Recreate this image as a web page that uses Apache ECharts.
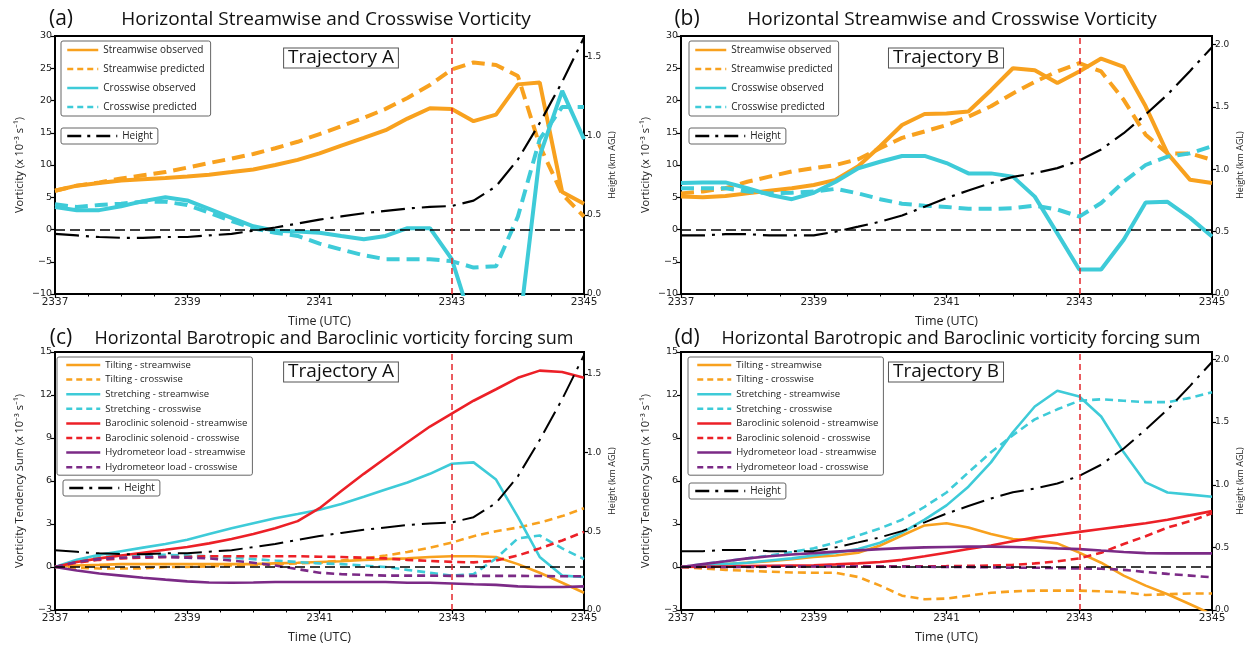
<!DOCTYPE html>
<html>
<head>
<meta charset="utf-8">
<script src="https://cdn.jsdelivr.net/npm/echarts@6.0.0/dist/echarts.min.js"></script>
<style>
	html, body { margin: 0; padding: 0; background: #ffffff; }
	#chart { width: 1252px; height: 645px; }
</style>
</head>
<body>
<div id="chart"></div>
<script>
// time axis (UTC, 20 s output interval)
var time = [2337, 2337.33, 2337.67, 2338, 2338.33, 2338.67, 2339, 2339.33, 2339.67, 2340, 2340.33, 2340.67,
	2341, 2341.33, 2341.67, 2342, 2342.33, 2342.67, 2343, 2343.33, 2343.67, 2344, 2344.33, 2344.67, 2345];
var timeTicks = [2337, 2339, 2341, 2343, 2345];

// (a) trajectory A vorticity
var streamObsA = [6.0, 6.8, 7.2, 7.6, 7.8, 8.0, 8.2, 8.5, 8.9, 9.3, 10.0, 10.8, 11.8, 13.0, 14.2, 15.4, 17.2, 18.8, 18.7, 16.8, 17.8, 22.5, 22.8, 5.8, 4.0];
var streamPredA = [6.0, 6.8, 7.3, 7.9, 8.4, 8.9, 9.6, 10.3, 11.0, 11.7, 12.6, 13.6, 14.8, 16.0, 17.3, 18.7, 20.4, 22.4, 24.8, 25.9, 25.5, 23.8, 13.0, 5.5, 2.0];
var crossObsA = [3.5, 3.0, 3.0, 3.6, 4.4, 5.0, 4.5, 3.2, 1.8, 0.5, -0.2, -0.3, -0.5, -1.0, -1.5, -1.0, 0.2, 0.2, -4.6, -15.3, -17.0, -17.1, 11.4, 21.5, 14.0];
var crossPredA = [3.9, 3.5, 3.8, 4.0, 4.3, 4.3, 3.8, 2.6, 1.3, 0.2, -0.5, -1.0, -2.2, -3.1, -4.0, -4.6, -4.6, -4.6, -4.9, -5.9, -5.7, 2.0, 14.0, 19.0, 19.0];
var heightA = [0.38, 0.37, 0.36, 0.355, 0.355, 0.36, 0.36, 0.37, 0.38, 0.40, 0.42, 0.445, 0.47, 0.49, 0.51, 0.525, 0.54, 0.55, 0.556, 0.59, 0.68, 0.85, 1.08, 1.34, 1.62];

// (b) trajectory B vorticity
var streamObsB = [5.1, 5.0, 5.2, 5.6, 6.0, 6.4, 6.9, 7.7, 9.8, 12.9, 16.2, 17.9, 18.0, 18.3, 21.6, 25.0, 24.7, 22.7, 24.5, 26.5, 25.2, 19.1, 11.8, 7.7, 7.2];
var streamPredB = [5.6, 5.9, 6.4, 7.4, 8.2, 9.0, 9.5, 10.0, 10.9, 12.6, 14.2, 15.2, 16.2, 17.5, 19.1, 21.1, 22.9, 24.5, 25.8, 24.5, 20.1, 14.7, 11.8, 11.8, 10.8];
var crossObsB = [7.2, 7.3, 7.3, 6.4, 5.4, 4.7, 5.7, 7.4, 9.5, 10.5, 11.4, 11.4, 10.3, 8.7, 8.7, 8.2, 5.1, -0.6, -6.2, -6.2, -1.6, 4.2, 4.3, 1.8, -1.1];
var crossPredB = [6.4, 6.4, 6.4, 5.9, 5.6, 5.7, 5.9, 6.3, 5.6, 4.7, 4.0, 3.7, 3.5, 3.2, 3.2, 3.3, 3.7, 3.1, 2.0, 4.1, 7.4, 10.0, 11.3, 11.8, 12.9];
var heightB = [0.47, 0.47, 0.48, 0.48, 0.47, 0.47, 0.47, 0.50, 0.54, 0.58, 0.63, 0.70, 0.77, 0.83, 0.89, 0.94, 0.97, 1.01, 1.07, 1.16, 1.29, 1.44, 1.60, 1.79, 1.98];

// (c) trajectory A forcing sums
var tiltStrC = [0, 0.1, 0.15, 0.2, 0.2, 0.2, 0.2, 0.2, 0.2, 0.2, 0.25, 0.3, 0.35, 0.4, 0.5, 0.55, 0.6, 0.7, 0.75, 0.75, 0.7, 0.2, -0.4, -1.1, -1.8];
var tiltCrsC = [0, -0.05, -0.1, -0.1, -0.1, 0, 0, 0.05, 0.1, 0.15, 0.2, 0.25, 0.3, 0.45, 0.6, 0.8, 1.05, 1.35, 1.7, 2.15, 2.5, 2.75, 3.1, 3.55, 4.1];
var stretchStrC = [0, 0.5, 0.85, 1.1, 1.35, 1.6, 1.9, 2.3, 2.7, 3.05, 3.4, 3.7, 4.0, 4.4, 4.9, 5.4, 5.9, 6.5, 7.2, 7.3, 6.1, 3.5, 0.7, -0.6, -0.7];
var stretchCrsC = [0, 0.4, 0.7, 0.8, 0.85, 0.85, 0.8, 0.75, 0.65, 0.55, 0.45, 0.35, 0.25, 0.2, 0.1, 0.0, -0.2, -0.4, -0.6, -0.5, 0.6, 2.0, 2.2, 1.3, 0.55];
var baroStrC = [0, 0.35, 0.6, 0.8, 1.0, 1.2, 1.4, 1.65, 1.95, 2.3, 2.7, 3.2, 4.1, 5.3, 6.5, 7.6, 8.7, 9.8, 10.7, 11.6, 12.4, 13.2, 13.7, 13.6, 13.2];
var baroCrsC = [0, 0.3, 0.5, 0.6, 0.65, 0.7, 0.7, 0.75, 0.75, 0.75, 0.75, 0.75, 0.72, 0.7, 0.65, 0.6, 0.5, 0.42, 0.36, 0.32, 0.45, 0.8, 1.3, 1.85, 2.45];
var hydroStrC = [0, -0.25, -0.45, -0.6, -0.75, -0.88, -1.0, -1.08, -1.1, -1.08, -1.05, -1.05, -1.05, -1.05, -1.05, -1.05, -1.1, -1.1, -1.15, -1.2, -1.25, -1.35, -1.4, -1.4, -1.35];
var hydroCrsC = [0, 0.35, 0.55, 0.65, 0.7, 0.7, 0.65, 0.6, 0.45, 0.3, 0.1, -0.15, -0.4, -0.5, -0.55, -0.6, -0.6, -0.6, -0.62, -0.62, -0.62, -0.62, -0.63, -0.65, -0.65];

// (d) trajectory B forcing sums
var tiltStrD = [0, 0.1, 0.2, 0.3, 0.4, 0.55, 0.7, 0.8, 1.0, 1.5, 2.2, 2.9, 3.05, 2.75, 2.3, 1.95, 1.85, 1.65, 1.0, 0.3, -0.6, -1.3, -1.9, -2.6, -3.3];
var tiltCrsD = [0, -0.1, -0.2, -0.27, -0.33, -0.38, -0.4, -0.4, -0.7, -1.3, -2.0, -2.25, -2.2, -2.0, -1.8, -1.7, -1.65, -1.65, -1.65, -1.7, -1.75, -1.95, -1.9, -1.85, -1.85];
var stretchStrD = [0, 0.1, 0.2, 0.3, 0.45, 0.6, 0.8, 1.0, 1.25, 1.7, 2.4, 3.3, 4.3, 5.6, 7.3, 9.4, 11.2, 12.3, 11.9, 10.5, 8.0, 5.9, 5.2, 5.05, 4.9];
var stretchCrsD = [0, 0.2, 0.4, 0.6, 0.8, 1.05, 1.3, 1.7, 2.2, 2.7, 3.3, 4.2, 5.2, 6.6, 8.0, 9.2, 10.3, 11.0, 11.6, 11.7, 11.6, 11.5, 11.5, 11.8, 12.2];
var baroStrD = [0, 0.02, 0.04, 0.06, 0.08, 0.1, 0.12, 0.18, 0.25, 0.35, 0.5, 0.75, 1.0, 1.25, 1.5, 1.8, 2.05, 2.25, 2.45, 2.65, 2.85, 3.05, 3.3, 3.6, 3.9];
var baroCrsD = [0, 0, 0, 0.02, 0.03, 0.04, 0.05, 0.05, 0.05, 0.05, 0.05, 0.05, 0.06, 0.08, 0.1, 0.15, 0.25, 0.4, 0.6, 1.0, 1.6, 2.15, 2.75, 3.2, 3.75];
var hydroStrD = [0, 0.2, 0.4, 0.6, 0.75, 0.87, 0.97, 1.07, 1.16, 1.25, 1.32, 1.37, 1.4, 1.42, 1.42, 1.4, 1.36, 1.3, 1.25, 1.15, 1.05, 0.97, 0.95, 0.95, 0.95];
var hydroCrsD = [0, 0, 0, 0, 0.02, 0.03, 0.04, 0.05, 0.05, 0.04, 0.03, 0.02, 0.0, 0.0, -0.02, -0.05, -0.05, -0.08, -0.1, -0.12, -0.2, -0.35, -0.48, -0.6, -0.72];

var orange = '#f8a11e';
var cyan = '#3ecbd8';
var red = '#ec2027';
var purple = '#7b2a86';
var text_color = '#222222';
var title_font = '"Open Sans", sans-serif';
var tick_font = '"DejaVu Sans", sans-serif';

function pairs(values) {
	return time.map(function (t, i) { return [t, values[i]]; });
}

function line(name, values, color, dash, width, xi, yi) {
	return {
		name: name,
		type: 'line',
		xAxisIndex: xi,
		yAxisIndex: yi,
		data: pairs(values),
		symbol: 'none',
		silent: true,
		lineStyle: { color: color, width: width, type: dash ? dash : 'solid' },
		itemStyle: { color: color }
	};
}

function refLines() {
	return {
		silent: true,
		symbol: 'none',
		label: { show: false },
		data: [
			{ yAxis: 0, lineStyle: { color: '#000', type: [10, 5], width: 1.5 } },
			{ xAxis: 2343, lineStyle: { color: '#e3262b', type: [6, 4], width: 1.5 } }
		]
	};
}

function timeAxis(gi) {
	return {
		type: 'value', gridIndex: gi, min: 2337, max: 2345, interval: 2,
		name: 'Time (UTC)', nameLocation: 'middle', nameGap: 21,
		nameTextStyle: { fontFamily: title_font, fontSize: 12.5, color: text_color },
		axisLine: { onZero: false, lineStyle: { color: '#000', width: 2 } },
		axisTick: { length: 4, lineStyle: { color: '#000', width: 1.2 } },
		minorTick: { show: true, splitNumber: 4, length: 2.5, lineStyle: { color: '#000', width: 1 } },
		axisLabel: { fontFamily: tick_font, fontSize: 10.5, color: text_color, margin: 3,
			formatter: function (v) { return timeTicks.indexOf(v) >= 0 ? String(v) : ''; } },
		splitLine: { show: false },
		minorSplitLine: { show: false }
	};
}

function leftAxis(gi, min, max, interval, name) {
	return {
		type: 'value', gridIndex: gi, position: 'left', min: min, max: max, interval: interval,
		name: name, nameLocation: 'middle', nameGap: 30,
		nameTextStyle: { fontFamily: title_font, fontSize: 11, color: text_color },
		axisLine: { show: true, onZero: false, lineStyle: { color: '#000', width: 2 } },
		axisTick: { show: true, length: 4, lineStyle: { color: '#000', width: 1.2 } },
		axisLabel: { fontFamily: tick_font, fontSize: 9.5, color: text_color, margin: 3,
			formatter: function (v) { return v < 0 ? '\u2212' + Math.abs(v) : String(v); } },
		splitLine: { show: false }
	};
}

function rightAxis(gi, max) {
	return {
		type: 'value', gridIndex: gi, position: 'right', min: 0, max: max, interval: 0.5,
		name: 'Height (km AGL)', nameLocation: 'middle', nameGap: 24,
		nameTextStyle: { fontFamily: title_font, fontSize: 9, color: text_color },
		axisLine: { show: true, onZero: false, lineStyle: { color: '#000', width: 2 } },
		axisTick: { show: true, length: 4, lineStyle: { color: '#000', width: 1.2 } },
		axisLabel: { fontFamily: tick_font, fontSize: 9, color: text_color, margin: 3, showMaxLabel: false,
			formatter: function (v) { return v.toFixed(1); } },
		splitLine: { show: false }
	};
}

var heightDash = [24, 7, 3, 7];
var topDash = [13, 7];
var lowDash = [8, 5];

function topLegend(left, names) {
	return {
		orient: 'vertical', left: left, top: 41,
		backgroundColor: '#fff', borderColor: '#666', borderWidth: 1, borderRadius: 2,
		padding: [4, 6, 4, 5], itemWidth: 31, itemHeight: 10, itemGap: 9,
		selectedMode: false,
		itemStyle: { opacity: 0 },
		lineStyle: { width: 2.5 },
		textStyle: { fontFamily: title_font, fontSize: 10, color: text_color },
		data: [
			{ name: names[0] },
			{ name: names[1], lineStyle: { width: 2.5, type: [6, 4] } },
			{ name: names[2] },
			{ name: names[3], lineStyle: { width: 2.5, type: [6, 4] } }
		]
	};
}

function lowLegend(left) {
	var names = ['Tilting - streamwise', 'Tilting - crosswise', 'Stretching - streamwise', 'Stretching - crosswise',
		'Baroclinic solenoid - streamwise', 'Baroclinic solenoid - crosswise', 'Hydrometeor load - streamwise', 'Hydrometeor load - crosswise'];
	return {
		orient: 'vertical', left: left, top: 357,
		backgroundColor: '#fff', borderColor: '#666', borderWidth: 1, borderRadius: 2,
		padding: [3, 5, 3, 8], itemWidth: 34, itemHeight: 10, itemGap: 4.6,
		selectedMode: false,
		itemStyle: { opacity: 0 },
		lineStyle: { width: 2.5 },
		textStyle: { fontFamily: title_font, fontSize: 9.5, color: text_color },
		data: names.map(function (n, i) {
			return i % 2 ? { name: n, lineStyle: { width: 2.5, type: [6, 4] } } : { name: n };
		})
	};
}

function heightLegend(left, top) {
	return {
		orient: 'vertical', left: left, top: top,
		backgroundColor: '#fff', borderColor: '#666', borderWidth: 1, borderRadius: 2,
		padding: [3, 5, 3, 5], itemWidth: 50, itemHeight: 10,
		selectedMode: false,
		itemStyle: { opacity: 0 },
		lineStyle: { width: 2.5 },
		textStyle: { fontFamily: title_font, fontSize: 10, color: text_color },
		data: [{ name: 'Height', lineStyle: { width: 2.5, type: [14, 6, 3, 6] } }]
	};
}

function label(x, y, txt, size, boxed) {
	var style = { text: txt, x: 0, y: 0, font: size + 'px ' + title_font, fill: '#111',
		textAlign: 'center', textVerticalAlign: 'middle', align: 'center', verticalAlign: 'middle' };
	if (boxed) {
		style.backgroundColor = '#fff';
		style.borderColor = '#555';
		style.borderWidth = 1;
		style.padding = [0, 4, 0, 4];
	}
	return { type: 'text', x: x, y: y, z: 100, silent: true, style: style };
}

var series = [];
// (a)
var sa = line('Streamwise observed', streamObsA, orange, null, 4, 0, 0);
sa.markLine = refLines();
series.push(sa);
series.push(line('Streamwise predicted', streamPredA, orange, topDash, 4, 0, 0));
series.push(line('Crosswise observed', crossObsA, cyan, null, 4, 0, 0));
series.push(line('Crosswise predicted', crossPredA, cyan, topDash, 4, 0, 0));
series.push(line('Height', heightA, '#000', heightDash, 2.2, 0, 1));
// (b)
var sb = line('Streamwise observed', streamObsB, orange, null, 4, 1, 2);
sb.markLine = refLines();
series.push(sb);
series.push(line('Streamwise predicted', streamPredB, orange, topDash, 4, 1, 2));
series.push(line('Crosswise observed', crossObsB, cyan, null, 4, 1, 2));
series.push(line('Crosswise predicted', crossPredB, cyan, topDash, 4, 1, 2));
series.push(line('Height', heightB, '#000', heightDash, 2.2, 1, 3));
// (c) and (d)
[[tiltStrC, tiltCrsC, stretchStrC, stretchCrsC, baroStrC, baroCrsC, hydroStrC, hydroCrsC, heightA],
 [tiltStrD, tiltCrsD, stretchStrD, stretchCrsD, baroStrD, baroCrsD, hydroStrD, hydroCrsD, heightB]].forEach(function (d, k) {
	var xi = 2 + k, yl = 4 + 2 * k, yr = 5 + 2 * k;
	var s0 = line('Tilting - streamwise', d[0], orange, null, 2.6, xi, yl);
	s0.markLine = refLines();
	series.push(s0);
	series.push(line('Tilting - crosswise', d[1], orange, lowDash, 2.6, xi, yl));
	series.push(line('Stretching - streamwise', d[2], cyan, null, 2.6, xi, yl));
	series.push(line('Stretching - crosswise', d[3], cyan, lowDash, 2.6, xi, yl));
	series.push(line('Baroclinic solenoid - streamwise', d[4], red, null, 2.6, xi, yl));
	series.push(line('Baroclinic solenoid - crosswise', d[5], red, lowDash, 2.6, xi, yl));
	series.push(line('Hydrometeor load - streamwise', d[6], purple, null, 2.6, xi, yl));
	series.push(line('Hydrometeor load - crosswise', d[7], purple, lowDash, 2.6, xi, yl));
	series.push(line('Height', d[8], '#000', heightDash, 2, xi, yr));
});

var topNames = ['Streamwise observed', 'Streamwise predicted', 'Crosswise observed', 'Crosswise predicted'];
var vortName = 'Vorticity (x 10\u207B\u00B3 s\u207B\u00B9)';
var tendName = 'Vorticity Tendency Sum (x 10\u207B\u00B3 s\u207B\u00B9)';

var chart = echarts.init(document.getElementById('chart'), null, { renderer: 'canvas' });
var option = {
	animation: false,
	backgroundColor: '#ffffff',
	grid: [
		{ left: 55, top: 36, width: 529, height: 258, show: true, borderColor: '#000', borderWidth: 2 },
		{ left: 681, top: 36, width: 531, height: 258, show: true, borderColor: '#000', borderWidth: 2 },
		{ left: 55, top: 352, width: 529, height: 259, show: true, borderColor: '#000', borderWidth: 2 },
		{ left: 681, top: 352, width: 531, height: 259, show: true, borderColor: '#000', borderWidth: 2 }
	],
	xAxis: [timeAxis(0), timeAxis(1), timeAxis(2), timeAxis(3)],
	yAxis: [
		leftAxis(0, -10, 30, 5, vortName), rightAxis(0, 1.63),
		leftAxis(1, -10, 30, 5, vortName), rightAxis(1, 2.07),
		leftAxis(2, -3, 15, 3, tendName), rightAxis(2, 1.64),
		leftAxis(3, -3, 15, 3, tendName), rightAxis(3, 2.06)
	],
	legend: [
		topLegend(61, topNames), heightLegend(61, 128),
		topLegend(689, topNames), heightLegend(689, 128),
		lowLegend(57), heightLegend(63, 480),
		lowLegend(688), heightLegend(689, 483)
	],
	graphic: [
		label(61, 19, '(a)', 21), label(326, 20, 'Horizontal Streamwise and Crosswise Vorticity', 19),
		label(687, 19, '(b)', 21), label(952, 20, 'Horizontal Streamwise and Crosswise Vorticity', 19),
		label(61, 338, '(c)', 21), label(334, 339, 'Horizontal Barotropic and Baroclinic vorticity forcing sum', 18),
		label(687, 338, '(d)', 21), label(961, 339, 'Horizontal Barotropic and Baroclinic vorticity forcing sum', 18),
		label(341, 58, 'Trajectory A', 19, true), label(946, 58, 'Trajectory B', 19, true),
		label(341, 372, 'Trajectory A', 19, true), label(946, 372, 'Trajectory B', 19, true)
	],
	series: series
};
chart.setOption(option, true);
</script>
</body>
</html>
